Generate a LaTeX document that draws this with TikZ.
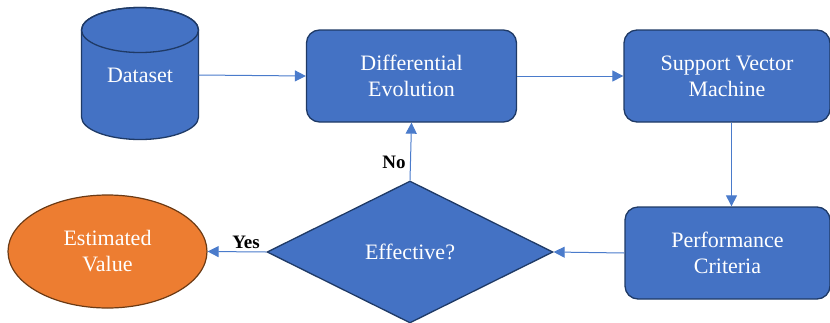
\documentclass[tikz,border=0pt]{standalone}
\usepackage{fontspec}
\setmainfont{Liberation Serif}
\usetikzlibrary{shapes.geometric,arrows.meta}
\definecolor{boxblue}{HTML}{4472C4}
\definecolor{boxedge}{HTML}{1F3A66}
\definecolor{arrowblue}{HTML}{4A7BCB}
\definecolor{orng}{HTML}{ED7D31}
\definecolor{orngedge}{HTML}{6B3A14}
\tikzset{
  lbl/.style={text=white, align=center, font=\fontsize{22}{26}\selectfont},
  box/.style={lbl, draw=boxedge, fill=boxblue, line width=1.3pt, rounded corners=13pt, inner sep=0pt},
  conn/.style={draw=arrowblue, line width=1pt, -{Triangle[length=11pt,width=11pt]}},
  yn/.style={font=\fontsize{19}{22}\selectfont\bfseries, text=black}
}
\begin{document}
\begin{tikzpicture}[x=1pt,y=-1pt]
\useasboundingbox (0,0) rectangle (830,322);
% cylinder
\draw[draw=boxedge, fill=boxblue, line width=1.3pt]
  (81.5,30) -- (81.5,117)
  arc[start angle=180, end angle=360, x radius=58.5pt, y radius=22.5pt]
  -- (198.5,30)
  arc[start angle=0, end angle=180, x radius=58.5pt, y radius=22.5pt] -- cycle;
\draw[draw=boxedge, line width=1.3pt] (140,30) ellipse [x radius=58.5pt, y radius=22.5pt];
\node[lbl, minimum width=117pt, inner sep=0pt] (ds) at (140,75) {Dataset};
% boxes
\node[box, minimum width=210pt, minimum height=92pt] (de) at (411.5,76) {Differential\\Evolution};
\node[box, minimum width=206pt, minimum height=92pt] (svm) at (727,76) {Support Vector\\Machine};
\node[box, minimum width=205pt, minimum height=92pt] (pc) at (727.5,253) {Performance\\Criteria};
\node[lbl, diamond, aspect=2, draw=boxedge, fill=boxblue, line width=1.3pt, minimum width=286pt, minimum height=142pt, inner sep=0pt] (eff) at (410,252) {Effective?};
\node[lbl, ellipse, draw=orngedge, fill=orng, line width=1.2pt, minimum width=199pt, minimum height=113pt, inner sep=0pt] (ev) at (107.5,251.5) {Estimated\\Value};
% connectors
\draw[conn] (ds.east) -- (de.west);
\draw[conn] (de.east) -- (svm.west);
\draw[conn] ([xshift=4.5pt]svm.south) -- ([xshift=4pt]pc.north);
\draw[conn] (pc.west) -- (eff.east);
\draw[conn] (eff.west) -- (ev.east);
\draw[conn] (eff.north) -- (de.south);
\node[yn, anchor=base] (yes) at (246,248) {Yes};
\node[yn, anchor=base] (no) at (394,168) {No};
\end{tikzpicture}
\end{document}
